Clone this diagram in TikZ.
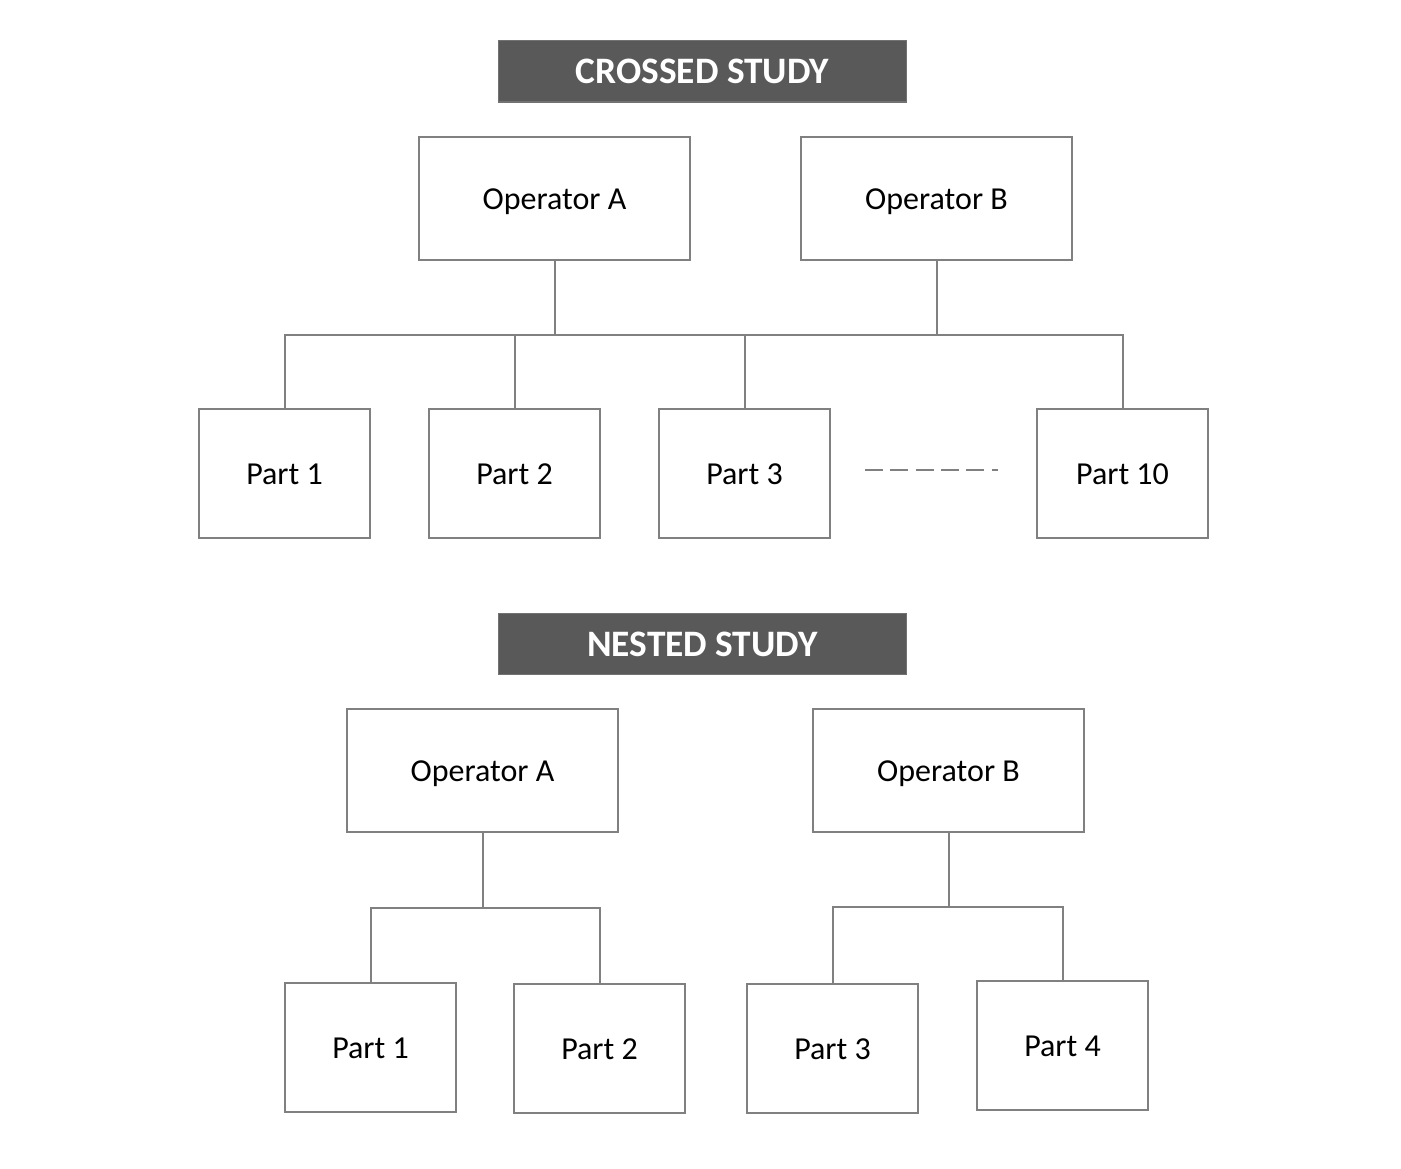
\documentclass[tikz,border=0pt]{standalone}
\usepackage{fontspec}
\setmainfont{Carlito}
\usetikzlibrary{positioning, calc}
\definecolor{TitleGray}{HTML}{595959}
\definecolor{LineGray}{HTML}{808080}

\begin{document}
\begin{tikzpicture}[
    x=0.75pt, y=-0.75pt,
    node distance=43pt,
    title/.style={rectangle, fill=TitleGray, draw=TitleGray!85, line width=1pt,
                  minimum width=306pt, minimum height=46pt, text=white,
                  font=\fontsize{28}{32}\selectfont\bfseries},
    opbox/.style={rectangle, draw=LineGray, line width=1.5pt, fill=white,
                  minimum width=203pt, minimum height=92pt,
                  text height=17pt, text depth=1pt,
                  font=\fontsize{24}{28}\selectfont},
    partbox/.style={rectangle, draw=LineGray, line width=1.5pt, fill=white,
                    minimum width=128pt, minimum height=97pt,
                    text height=17pt, text depth=1pt,
                    font=\fontsize{24}{28}\selectfont},
    link/.style={draw=LineGray, line width=1.5pt}
]
    \useasboundingbox (0,0) rectangle (1401,1169);

    % Crossed study
    \node[title] (ctitle) at (702.5,71.5) {CROSSED STUDY};
    \node[opbox] (copA) at (554.5,198.5) {Operator A};
    \node[opbox] (copB) at (936.5,198.5) {Operator B};

    \node[partbox] (cp1) at (284.5,473.5) {Part 1};
    \node[partbox, right=of cp1] (cp2) {Part 2};
    \node[partbox, right=of cp2] (cp3) {Part 3};
    \node[partbox] (cp10) at (1122.5,473.5) {Part 10};

    \coordinate (cbus) at (0,335);
    \draw[link] (cp1.north) |- (cp10.north |- cbus) -- (cp10.north);
    \foreach \n in {copA.south, copB.south, cp2.north, cp3.north}
        \draw[link] (\n) -- (\n |- cbus);
    \coordinate (cdotsL) at (865,470);
    \coordinate (cdotsR) at (998,470);
    \draw[link, dash pattern=on 13.5pt off 5.5pt] (cdotsL) -- (cdotsR);

    % Nested study
    \node[title] (ntitle) at (702.5,644) {NESTED STUDY};
    \node[opbox] (nopA) at (482.5,770.5) {Operator A};
    \node[opbox] (nopB) at (948.5,770.5) {Operator B};

    \node[partbox] (np1) at (370.5,1047.5) {Part 1};
    \node[partbox] (np2) at (599.5,1048.5) {Part 2};
    \node[partbox] (np3) at (832.5,1048.5) {Part 3};
    \node[partbox] (np4) at (1062.5,1045.5) {Part 4};

    \coordinate (nbusA) at (0,908);
    \coordinate (nbusB) at (0,907);
    \draw[link] (np1.north) |- (np2.north |- nbusA) -- (np2.north);
    \draw[link] (nopA.south) -- (nopA.south |- nbusA);
    \draw[link] (np3.north) |- (np4.north |- nbusB) -- (np4.north);
    \draw[link] (nopB.south) -- (nopB.south |- nbusB);
\end{tikzpicture}
\end{document}
